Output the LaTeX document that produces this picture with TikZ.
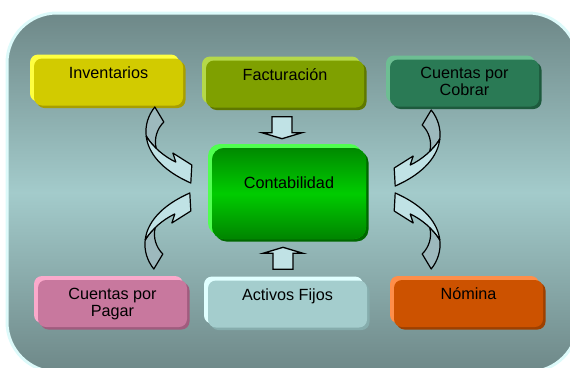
\documentclass[tikz,border=0pt]{standalone}
\usepackage{fontspec}
\setmainfont{Liberation Sans}
\usetikzlibrary{calc}
\definecolor{bgdark}{HTML}{6E8888}
\definecolor{bglight}{HTML}{A3CBCB}
\definecolor{bgedge}{HTML}{DDFAFA}
\definecolor{invface}{HTML}{D2CB00}
\definecolor{invlight}{HTML}{FFFF40}
\definecolor{invshade}{HTML}{A89E00}
\definecolor{facface}{HTML}{7FA000}
\definecolor{faclight}{HTML}{B5D84A}
\definecolor{facshade}{HTML}{5F7800}
\definecolor{cobface}{HTML}{2A7A55}
\definecolor{coblight}{HTML}{6DBE93}
\definecolor{cobshade}{HTML}{1D5A3D}
\definecolor{pagface}{HTML}{C8789E}
\definecolor{paglight}{HTML}{FBA9CB}
\definecolor{pagshade}{HTML}{A05C7E}
\definecolor{actface}{HTML}{A4CDCD}
\definecolor{actlight}{HTML}{E0FFFF}
\definecolor{actshade}{HTML}{86ADAD}
\definecolor{nomface}{HTML}{CC5200}
\definecolor{nomlight}{HTML}{FF8E4A}
\definecolor{nomshade}{HTML}{9E4000}
\definecolor{conttop}{HTML}{008A00}
\definecolor{contmid}{HTML}{00CC00}
\definecolor{contbot}{HTML}{008400}
\definecolor{contlight}{HTML}{50FF50}
\definecolor{contshade}{HTML}{006800}
\definecolor{arrowfill}{HTML}{C0E2E5}
\definecolor{curvback}{HTML}{9DB9BD}
\tikzset{
  box/.style n args={3}{rounded corners=8pt, fill=#1,
    preaction={fill=#2, transform canvas={xshift=-4pt,yshift=4pt}},
    preaction={fill=#3, transform canvas={xshift=2.5pt,yshift=-2.5pt}},
    minimum width=149pt, minimum height=47pt, inner sep=0pt},
  boxtext/.style={anchor=north, inner sep=0pt, yshift=-8pt, align=center},
  arrowline/.style={draw=black, line width=1.3pt, fill=arrowfill},
  curvline/.style={draw=black, line width=1.2pt, line join=round},
  pics/fatarrow/.style={code={
    \draw[arrowline] (-10,0) -- (-10,16) -- (-20,16) -- (0,22) -- (20,16) -- (10,16) -- (10,0) -- cycle;
  }},
  pics/curvarrow/.style={code={
    \draw[curvline, fill=curvback] (-36,-76) .. controls (-42.4,-68) and (-45.9,-57.8) .. (-44.6,-46.9)
      .. controls (-42,-42.6) and (-38.5,-38.4) .. (-34.5,-34.5)
      .. controls (-37,-44) and (-34,-54) .. (-27,-61) -- cycle;
    \draw[curvline, fill=arrowfill] (-44.6,-46.9) .. controls (-42.7,-30.7) and (-30,-13.2) .. (0,0)
      -- (1,-18) -- (-18,-30) -- (-15,-21)
      .. controls (-26,-26) and (-38,-36) .. (-44.6,-46.9) -- cycle;
  }}
}
\begin{document}
\begin{tikzpicture}[x=1pt,y=-1pt,font=\fontsize{16.2}{17}\selectfont]
    \clip (0,0) rectangle (570,367);
    \path[draw=bgedge, line width=3pt, rounded corners=50pt, top color=bgdark, bottom color=bgdark, middle color=bglight] (7,13) rectangle (578,372);

    \node[box={invface}{invlight}{invshade}, label={[boxtext]north:Inventarios}] (inv) at (108.5,82) {};
    \node[box={facface}{faclight}{facshade}, minimum width=158pt, label={[boxtext]north:Facturación}] (fac) at (285,84) {};
    \node[box={cobface}{coblight}{cobshade}, label={[boxtext]north:Cuentas por\\Cobrar}] (cob) at (464.5,83) {};
    \node[box={pagface}{paglight}{pagshade}, label={[boxtext]north:Cuentas por\\Pagar}] (pag) at (112.5,303.5) {};
    \node[box={actface}{actlight}{actshade}, minimum width=159pt, label={[boxtext]north:Activos Fijos}] (act) at (287.5,304) {};
    \node[box={nomface}{nomlight}{nomshade}, label={[boxtext]north:Nómina}] (nom) at (468.5,303.5) {};
    \node[box={contmid}{contlight}{contshade}, rounded corners=12pt, minimum width=154pt, minimum height=91pt,
          top color=conttop, bottom color=contbot, middle color=contmid,
          label={[boxtext, yshift=-20.5pt]north:Contabilidad}] (cont) at (289,193.5) {};

    \path (fac.south) ++(-3,9) pic {fatarrow};
    \path (act.north) ++(-4.5,-11) pic[yscale=-1] {fatarrow};

    \coordinate (invtip) at ($(cont.west)+(-21,-10.5)$);
    \coordinate (pagtip) at ($(cont.west)+(-22,-0.5)$);
    \coordinate (cobtip) at ($(cont.east)+(29,-7.5)$);
    \coordinate (nomtip) at ($(cont.east)+(29,-0.5)$);
    \pic at (invtip) {curvarrow};
    \pic[yscale=-1] at (pagtip) {curvarrow};
    \pic[xscale=-1] at (cobtip) {curvarrow};
    \pic[xscale=-1,yscale=-1] at (nomtip) {curvarrow};
\end{tikzpicture}
\end{document}
